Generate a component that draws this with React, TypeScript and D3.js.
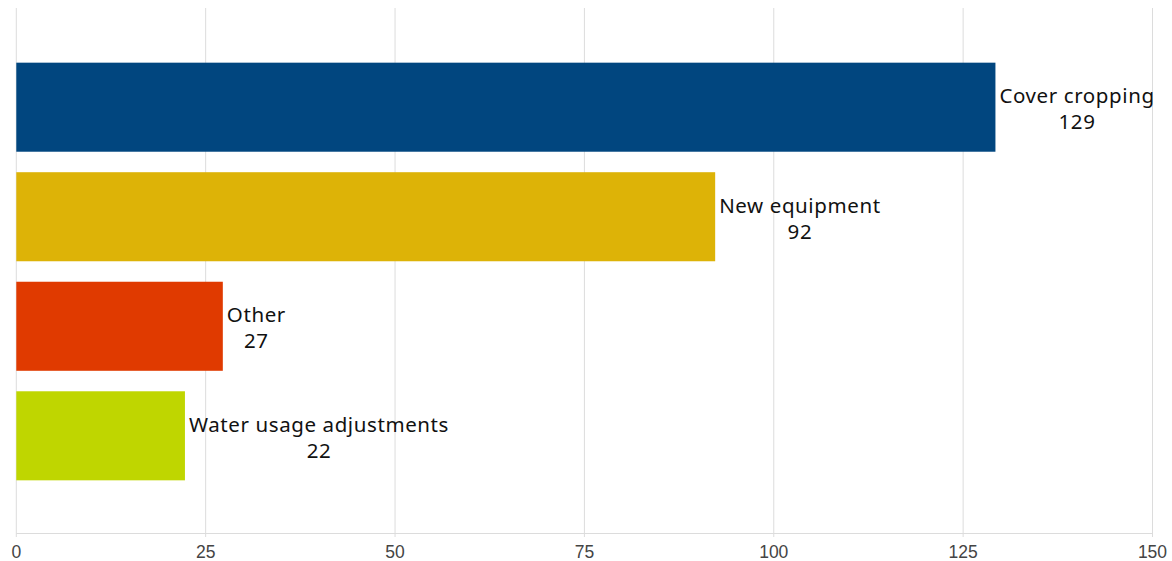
import React from "react";
import * as d3 from "d3";

const categories = ["Cover cropping", "New equipment", "Other", "Water usage adjustments"];
const values = [129, 92, 27, 22];
const colors = ["#01467f", "#ddb307", "#e03a00", "#bfd600"];
const ticks = [0, 25, 50, 75, 100, 125, 150];

const W = 1172, H = 561;
const fontSize = 20.5;
const ls = 0.6;
const labelFont = `${fontSize}px 'Noto Sans', sans-serif`;

function measure(t: string): number {
  const c = document.createElement("canvas").getContext("2d")!;
  c.font = labelFont;
  return c.measureText(t).width + ls * t.length;
}

export default function App() {
  const x = d3.scaleLinear().domain([0, 150]).range([16.3, 1152.5]);
  const y = d3.scaleBand<string>().domain(categories).range([9, 534]).paddingInner(0.187).paddingOuter(0.49);
  return (
    <svg width={W} height={H} style={{ position: "absolute", left: 0, top: 0 }}>
      <rect width={W} height={H} fill="#fff" />
      {ticks.map((t) => (
        <g key={t}>
          <line x1={x(t)} x2={x(t)} y1={8} y2={537} stroke="#dcdcdc" strokeWidth={1} />
          <text x={x(t)} y={558} textAnchor="middle" fontFamily="'Liberation Sans', Arial, sans-serif" fontSize={17.5} fill="#444">{t}</text>
        </g>
      ))}
      <line x1={x(0)} x2={x(150)} y1={533.5} y2={533.5} stroke="#dcdcdc" />
      {categories.map((c, i) => {
        const y0 = y(c)!;
        const bw = y.bandwidth();
        const xe = x(values[i]) + 2;
        const tw = measure(c);
        const sx = xe + 4;
        const cx = sx + tw / 2;
        const cy = y0 + bw / 2;
        return (
          <g key={c}>
            <rect x={x(0)} y={y0} width={xe - x(0)} height={bw} fill={colors[i]} />
            <text x={sx} y={cy - 4} style={{ font: labelFont, letterSpacing: `${ls}px` }} fill="#111">{c}</text>
            <text x={cx} y={cy + 22} textAnchor="middle" style={{ font: labelFont, letterSpacing: `${ls}px` }} fill="#111">{values[i]}</text>
          </g>
        );
      })}
    </svg>
  );
}
